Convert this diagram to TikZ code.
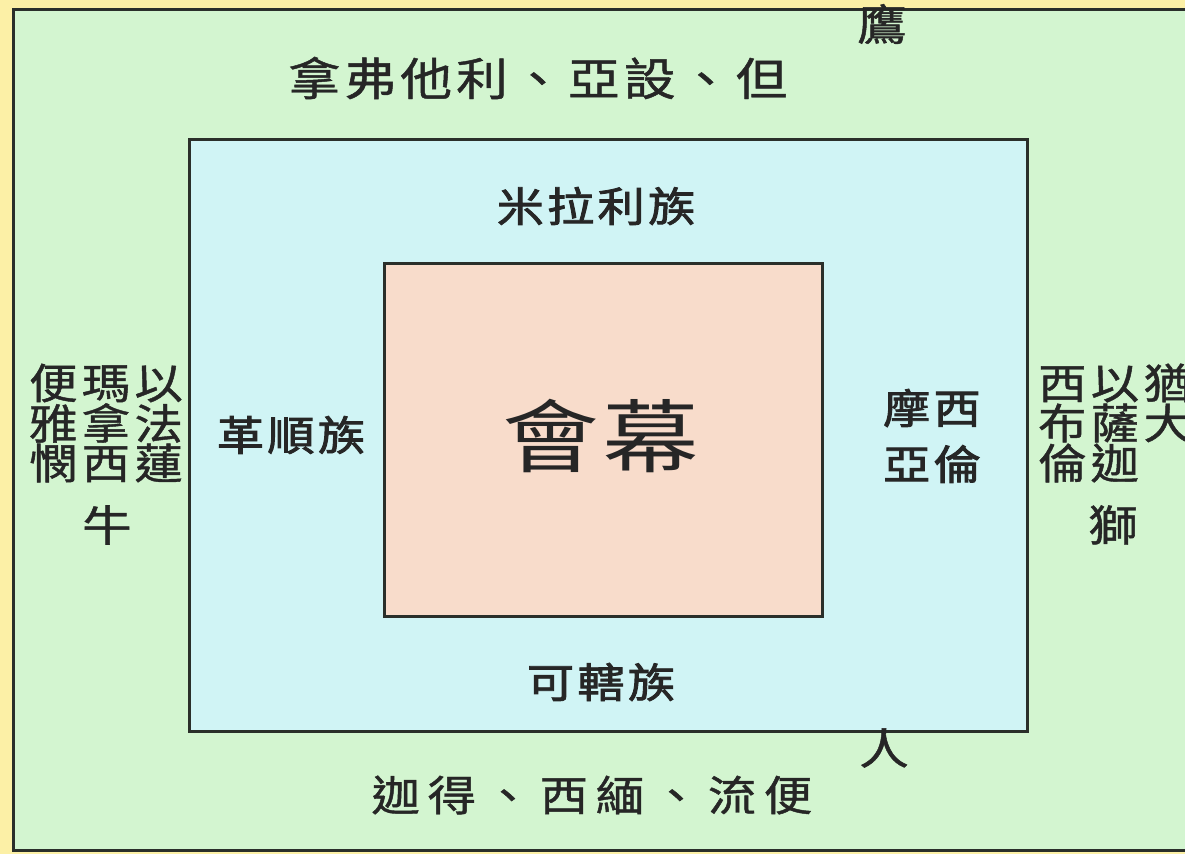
\documentclass[tikz,border=0pt]{standalone}
\usepackage{fontspec}
\newfontfamily\cjk[FakeBold=1]{Noto Sans CJK TC}
\newfontfamily\cjkb[FakeBold=2]{Noto Sans CJK TC}
\newfontfamily\cjkr{Noto Sans CJK TC}
\newcommand\hs[1]{\scalebox{1.15}[1]{#1}}
\definecolor{bgyellow}{HTML}{FCF0A6}
\definecolor{outgreen}{HTML}{D3F5D0}
\definecolor{midblue}{HTML}{D0F4F5}
\definecolor{inpeach}{HTML}{F8DCCB}
\definecolor{edge}{HTML}{2A2F2A}
\tikzset{
  boxframe/.style={draw=edge, line width=3pt},
  lbl/.style={inner sep=0pt, text=black!85},
  northtxt/.style={lbl, font={\cjk\fontsize{45}{45}\selectfont\addfontfeature{LetterSpace=8}}},
  southtxt/.style={lbl, font={\cjk\fontsize{42}{42}\selectfont\addfontfeature{LetterSpace=16}}},
  single/.style={lbl, font={\cjk\fontsize{43}{43}\selectfont}},
  tribe/.style={lbl, font={\cjk\fontsize{42}{42}\selectfont\addfontfeature{LetterSpace=9}}},
  clan/.style={lbl, font={\cjkb\fontsize{41}{41}\selectfont\addfontfeature{LetterSpace=7}}},
}
\begin{document}
\begin{tikzpicture}[x=1pt,y=-1pt]
\useasboundingbox (0,0) rectangle (1185,854);
\clip (0,0) rectangle (1185,854);
\fill[bgyellow] (0,0) rectangle (1185,854);
\draw[boxframe, fill=outgreen] (13.5,9.5) rectangle (1200,850.5);
\draw[boxframe, fill=midblue] (189,139) rectangle (1027,731);
\draw[boxframe, fill=inpeach] (384,263) rectangle (822,616);

\node[lbl, font={\cjkr\fontsize{84}{84}\selectfont\addfontfeature{LetterSpace=4}}] (tab) at (601,436) {\scalebox{1.15}[0.95]{會幕}};

\node[northtxt] (north) at (538,78) {\hs{拿弗他利、亞設、但}};
\node[southtxt] (south) at (592,795) {\hs{迦得、西緬、流便}};
\node[single] (eagle) at (882,24) {\hs{鷹}};
\node[single] (man) at (884,748) {\hs{人}};

\node[tribe, anchor=west] (w1) at (29,383) {\hs{便瑪以}};
\node[tribe, anchor=west] (w2) at (29,423) {\hs{雅拿法}};
\node[tribe, anchor=west] (w3) at (29,463) {\hs{憫西蓮}};
\node[single] (ox) at (107,525) {\hs{牛}};
\node[tribe, anchor=west] (e1) at (1038,383) {\hs{西以猶}};
\node[tribe, anchor=west] (e2) at (1038,423) {\hs{布薩大}};
\node[tribe, anchor=west] (e3) at (1038,463) {\hs{倫迦}};
\node[single] (lion) at (1113,525) {\hs{獅}};

\node[clan] (merari) at (596,206) {\hs{米拉利族}};
\node[clan] (gershon) at (291,435) {\hs{革順族}};
\node[clan] (moses1) at (932,408) {\hs{摩西}};
\node[clan] (moses2) at (932,464) {\hs{亞倫}};
\node[clan] (kohath) at (601,682) {\hs{可轄族}};
\end{tikzpicture}
\end{document}
